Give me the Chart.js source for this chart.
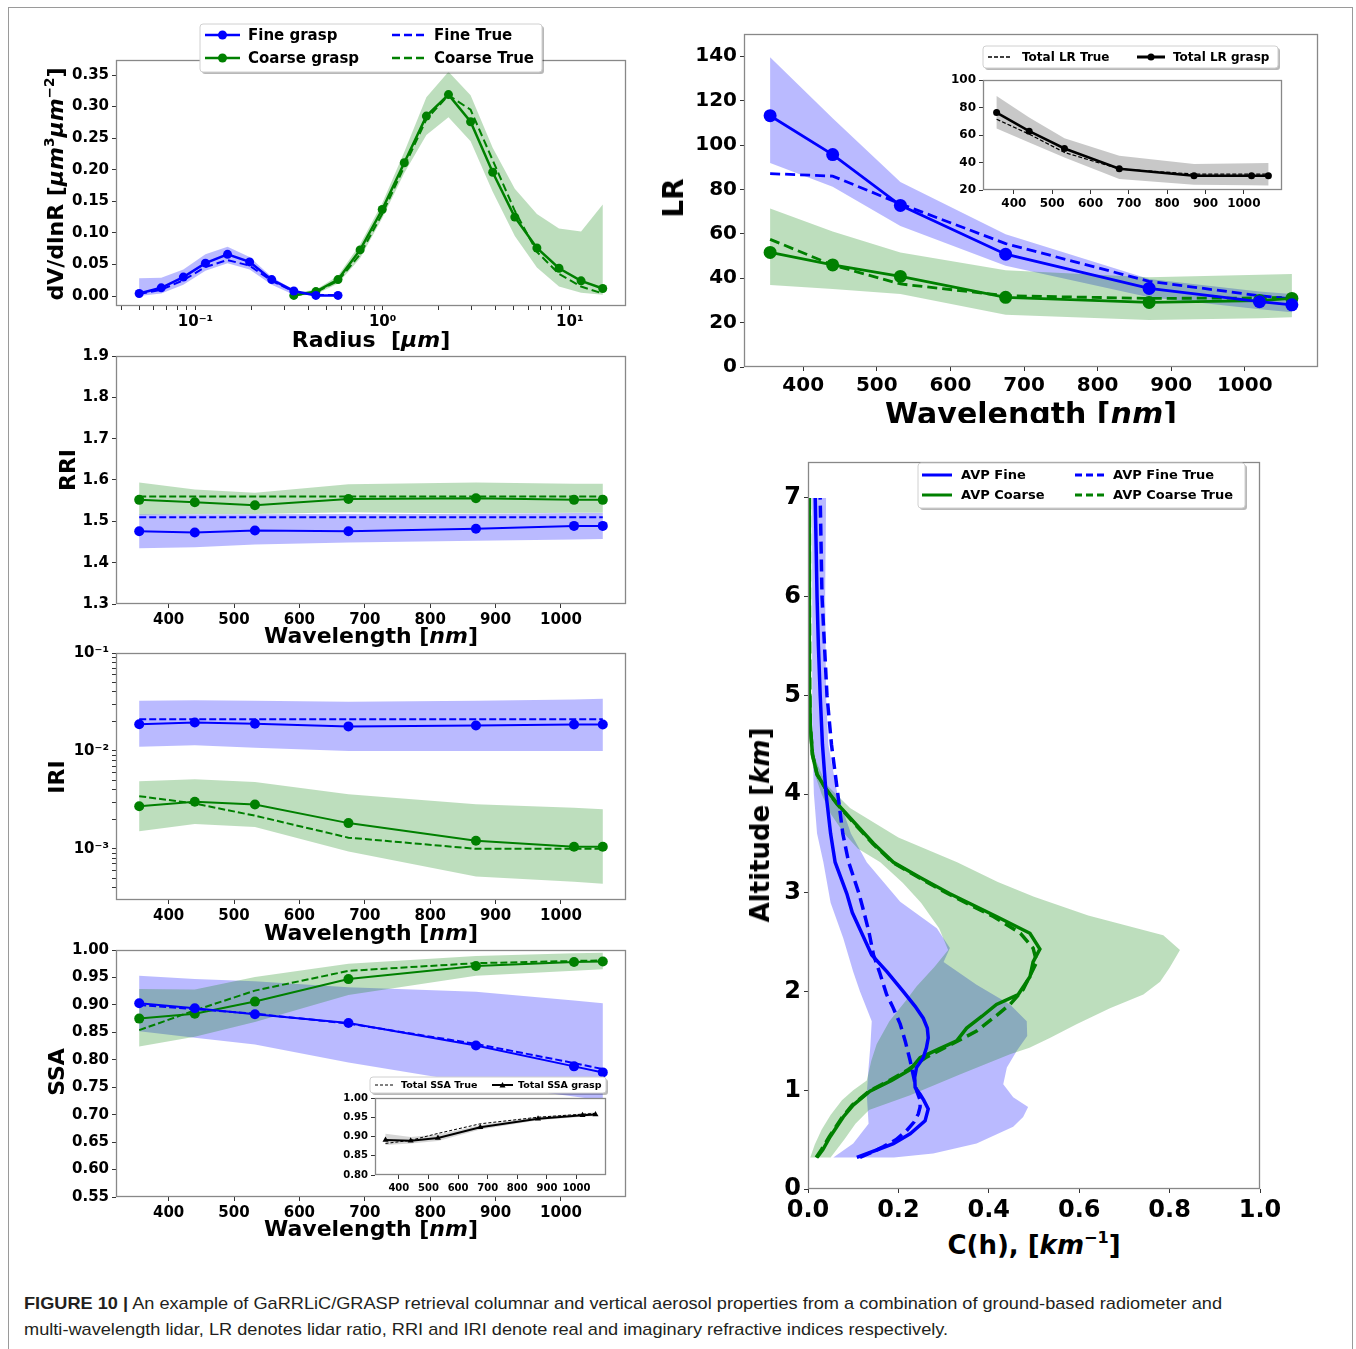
<!DOCTYPE html>
<html>
<head>
<meta charset="utf-8">
<script src="https://cdn.jsdelivr.net/npm/chart.js@4.4.1/dist/chart.umd.min.js"></script>
<style>
  body { margin: 0; width: 1356px; height: 1349px; background: #fff; position: relative; overflow: hidden; font-family: 'DejaVu Sans', sans-serif; }
  canvas { position: absolute; }
  .t { position: absolute; font-weight: bold; white-space: nowrap; color: #000; transform: translate(-50%, -50%); line-height: 1; }
  .r { transform: translate(-50%, -50%) rotate(-90deg); }
  .t sup { font-size: 0.62em; position: relative; top: -0.15em; vertical-align: top; }
  #frame { position: absolute; left: 8px; top: 7px; width: 1343px; height: 1400px; border: 1px solid #9a9a9a; }
  #cap { position: absolute; left: 24px; top: 1291px; font-family: 'Liberation Sans', Arial, sans-serif; font-size: 17px; line-height: 26px; color: #231f20; white-space: nowrap; transform-origin: 0 0; }
  #cap span { display: inline-block; }
</style>
</head>
<body>
<div id="frame"></div>

<script>
// ---- shared wavelength axis ----
const wavelengths = [355, 440, 532, 675, 870, 1020, 1064];
const wavelengthTicks = [400, 500, 600, 700, 800, 900, 1000];

// ---- size distribution ----
const radiusFine = [0.05, 0.0656, 0.0861, 0.113, 0.1483, 0.1946, 0.2554, 0.3352, 0.4399, 0.5774];
const fineGrasp = [0.004, 0.013, 0.030, 0.052, 0.066, 0.054, 0.026, 0.008, 0.001, 0.001];
const fineTrue = [0.003, 0.010, 0.025, 0.046, 0.057, 0.048, 0.024, 0.007, 0.002, 0.001];
const radiusFineBand = [0.05, 0.0656, 0.0861, 0.113, 0.1483, 0.1946, 0.2554, 0.3352];
const fineBandLow = [0.0, 0.004, 0.018, 0.040, 0.052, 0.042, 0.018, 0.002];
const fineBandHigh = [0.028, 0.029, 0.042, 0.066, 0.078, 0.062, 0.030, 0.010];
const radiusCoarse = [0.3352, 0.4399, 0.5774, 0.7578, 0.9946, 1.305, 1.713, 2.248, 2.951, 3.873, 5.083, 6.671, 8.756, 11.49, 15.0];
const coarseGrasp = [0.001, 0.007, 0.026, 0.073, 0.137, 0.211, 0.285, 0.319, 0.276, 0.196, 0.125, 0.076, 0.044, 0.024, 0.012];
const coarseTrue = [0.001, 0.006, 0.024, 0.066, 0.130, 0.205, 0.280, 0.318, 0.295, 0.215, 0.135, 0.070, 0.035, 0.015, 0.004];
const coarseBandLow = [0.0, 0.003, 0.020, 0.060, 0.123, 0.195, 0.255, 0.283, 0.245, 0.165, 0.095, 0.045, 0.015, 0.005, 0.002];
const coarseBandHigh = [0.005, 0.010, 0.032, 0.082, 0.147, 0.228, 0.315, 0.355, 0.318, 0.235, 0.170, 0.130, 0.107, 0.102, 0.145];
const sizeTicks = [0, 0.05, 0.10, 0.15, 0.20, 0.25, 0.30, 0.35];
const radiusMajor = [0.1, 1, 10];
const radiusMajorLabels = ['10⁻¹', '10⁰', '10¹'];
const radiusMinor = [0.04, 0.05, 0.06, 0.07, 0.08, 0.09, 0.2, 0.3, 0.4, 0.5, 0.6, 0.7, 0.8, 0.9, 2, 3, 4, 5, 6, 7, 8, 9];

// ---- RRI ----
const rriFineGrasp = [1.476, 1.473, 1.478, 1.476, 1.482, 1.489, 1.489];
const rriFineTrue = [1.51, 1.51, 1.51, 1.51, 1.51, 1.51, 1.51];
const rriFineLow = [1.435, 1.437, 1.444, 1.449, 1.453, 1.456, 1.457];
const rriFineHigh = [1.517, 1.517, 1.517, 1.518, 1.518, 1.520, 1.520];
const rriCoarseGrasp = [1.552, 1.546, 1.539, 1.554, 1.556, 1.552, 1.552];
const rriCoarseTrue = [1.56, 1.56, 1.56, 1.56, 1.56, 1.56, 1.56];
const rriCoarseLow = [1.516, 1.518, 1.518, 1.522, 1.519, 1.521, 1.521];
const rriCoarseHigh = [1.594, 1.577, 1.569, 1.590, 1.594, 1.591, 1.591];
const rriTicks = [1.3, 1.4, 1.5, 1.6, 1.7, 1.8, 1.9];

// ---- IRI ----
const iriFineGrasp = [0.0187, 0.0195, 0.0189, 0.0178, 0.0182, 0.0186, 0.0186];
const iriFineTrue = [0.021, 0.021, 0.021, 0.021, 0.021, 0.021, 0.021];
const iriFineLow = [0.0110, 0.0114, 0.0108, 0.0100, 0.0100, 0.0100, 0.0100];
const iriFineHigh = [0.0325, 0.0330, 0.0325, 0.0317, 0.0325, 0.0335, 0.0340];
const iriCoarseGrasp = [0.00272, 0.00303, 0.00283, 0.00183, 0.00121, 0.00105, 0.00105];
const iriCoarseTrue = [0.00345, 0.00290, 0.00218, 0.00130, 0.00100, 0.00100, 0.00100];
const iriCoarseLow = [0.00151, 0.00179, 0.00167, 0.00094, 0.00052, 0.00046, 0.00044];
const iriCoarseHigh = [0.00490, 0.00514, 0.00480, 0.00361, 0.00285, 0.00262, 0.00254];
const iriMajor = [0.001, 0.01, 0.1];
const iriMajorLabels = ['10⁻³', '10⁻²', '10⁻¹'];
const iriMinor = [0.0004, 0.0005, 0.0006, 0.0007, 0.0008, 0.0009, 0.002, 0.003, 0.004, 0.005, 0.006, 0.007, 0.008, 0.009, 0.02, 0.03, 0.04, 0.05, 0.06, 0.07, 0.08, 0.09];

// ---- SSA ----
const ssaFineGrasp = [0.903, 0.894, 0.883, 0.867, 0.826, 0.788, 0.777];
const ssaFineTrue = [0.900, 0.892, 0.884, 0.866, 0.829, 0.794, 0.783];
const ssaFineLow = [0.852, 0.840, 0.828, 0.795, 0.757, 0.733, 0.726];
const ssaFineHigh = [0.953, 0.947, 0.943, 0.932, 0.924, 0.908, 0.903];
const ssaCoarseGrasp = [0.875, 0.884, 0.906, 0.947, 0.971, 0.978, 0.979];
const ssaCoarseTrue = [0.854, 0.890, 0.926, 0.962, 0.976, 0.980, 0.981];
const ssaCoarseLow = [0.824, 0.842, 0.869, 0.918, 0.953, 0.962, 0.965];
const ssaCoarseHigh = [0.929, 0.928, 0.951, 0.975, 0.989, 0.994, 0.995];
const ssaTicks = [0.55, 0.60, 0.65, 0.70, 0.75, 0.80, 0.85, 0.90, 0.95, 1.00];
const ssaTotalGrasp = [0.891, 0.889, 0.896, 0.924, 0.946, 0.955, 0.957];
const ssaTotalTrue = [0.882, 0.890, 0.908, 0.933, 0.950, 0.958, 0.960];
const ssaTotalLow = [0.878, 0.882, 0.888, 0.918, 0.942, 0.951, 0.953];
const ssaTotalHigh = [0.907, 0.899, 0.905, 0.930, 0.952, 0.960, 0.963];
const ssaInsetTicks = [0.80, 0.85, 0.90, 0.95, 1.00];

// ---- lidar ratio ----
const lrFineGrasp = [113.2, 95.7, 72.8, 50.8, 35.4, 29.4, 28.0];
const lrFineTrue = [87.1, 86.0, 73.5, 55.6, 38.6, 32.1, 30.6];
const lrFineLow = [91.9, 81.2, 63.5, 45.6, 31.4, 26.0, 24.7];
const lrFineHigh = [139.5, 112.0, 83.3, 59.8, 39.6, 34.0, 32.9];
const lrCoarseGrasp = [51.6, 46.0, 40.8, 31.4, 29.1, 29.9, 30.9];
const lrCoarseTrue = [57.5, 45.9, 37.4, 32.1, 30.9, 31.1, 31.4];
const lrCoarseLow = [36.9, 35.1, 32.9, 23.5, 21.2, 22.0, 22.4];
const lrCoarseHigh = [71.4, 61.0, 51.6, 43.6, 40.4, 41.5, 41.9];
const lrTicks = [0, 20, 40, 60, 80, 100, 120, 140];
const lrTotalGrasp = [76.3, 62.8, 50.2, 35.5, 30.4, 30.4, 30.4];
const lrTotalTrue = [71.5, 60.6, 47.3, 35.3, 31.6, 31.6, 31.6];
const lrTotalLow = [64.7, 54.6, 43.7, 28.0, 23.9, 23.4, 23.2];
const lrTotalHigh = [88.4, 72.7, 57.7, 44.9, 38.9, 39.4, 39.6];
const lrInsetTicks = [20, 40, 60, 80, 100];

// ---- vertical profiles (altitude km, C(h) km^-1) ----
const fineAlt = [0.32, 0.40, 0.46, 0.56, 0.69, 0.81, 0.90, 0.96, 1.03, 1.13, 1.23, 1.33, 1.43, 1.53, 1.63, 1.73, 1.85, 2.0, 2.2, 2.37, 2.6, 2.8, 2.99, 3.31, 3.6, 4.0, 4.5, 5.0, 5.5, 6.0, 6.5, 7.0];
const avpFine = [0.108, 0.155, 0.189, 0.226, 0.259, 0.266, 0.256, 0.248, 0.237, 0.236, 0.240, 0.255, 0.262, 0.266, 0.264, 0.255, 0.237, 0.211, 0.175, 0.141, 0.118, 0.098, 0.086, 0.060, 0.050, 0.040, 0.032, 0.027, 0.023, 0.020, 0.018, 0.016];
const fineTrueAlt = [0.32, 0.38, 0.43, 0.50, 0.59, 0.68, 0.76, 0.83, 0.90, 1.0, 1.15, 1.30, 1.50, 1.67, 1.85, 1.97, 2.2, 2.37, 2.6, 2.8, 2.99, 3.31, 3.6, 4.0, 4.5, 5.0, 6.0, 7.0];
const avpFineTrue = [0.115, 0.145, 0.167, 0.195, 0.218, 0.235, 0.244, 0.248, 0.248, 0.240, 0.233, 0.226, 0.215, 0.204, 0.187, 0.174, 0.158, 0.145, 0.135, 0.124, 0.113, 0.090, 0.077, 0.066, 0.052, 0.042, 0.031, 0.027];
const coarseAlt = [0.32, 0.40, 0.53, 0.73, 0.85, 0.99, 1.10, 1.21, 1.33, 1.42, 1.50, 1.63, 1.75, 1.87, 1.97, 2.15, 2.30, 2.43, 2.59, 2.76, 2.99, 3.15, 3.31, 3.50, 3.70, 3.90, 4.05, 4.20, 4.40, 4.70, 5.00, 6.00, 7.00];
const avpCoarse = [0.020, 0.033, 0.049, 0.078, 0.100, 0.137, 0.185, 0.226, 0.248, 0.290, 0.329, 0.351, 0.385, 0.417, 0.465, 0.491, 0.498, 0.513, 0.491, 0.417, 0.314, 0.250, 0.189, 0.145, 0.105, 0.065, 0.040, 0.020, 0.010, 0.005, 0.004, 0.003, 0.003];
const coarseTrueAlt = [0.32, 0.40, 0.53, 0.73, 0.85, 0.99, 1.10, 1.21, 1.33, 1.45, 1.53, 1.60, 1.75, 1.87, 2.02, 2.15, 2.30, 2.44, 2.59, 2.76, 2.99, 3.15, 3.31, 3.50, 3.70, 3.90, 4.05, 4.20, 4.40, 4.70, 5.00, 6.00, 7.00];
const avpCoarseTrue = [0.018, 0.030, 0.047, 0.076, 0.098, 0.135, 0.180, 0.222, 0.260, 0.310, 0.344, 0.373, 0.415, 0.447, 0.476, 0.490, 0.506, 0.498, 0.470, 0.410, 0.310, 0.247, 0.187, 0.143, 0.103, 0.064, 0.040, 0.020, 0.010, 0.005, 0.004, 0.003, 0.003];
const coarseBandLeftAlt = [0.32, 0.45, 0.6, 0.75, 0.9, 1.0, 1.1, 1.3, 1.47, 1.7, 1.9, 2.05, 2.25, 2.42, 2.64, 2.9, 3.1, 3.31, 3.45, 3.6, 3.8, 4.0, 4.2, 4.4, 4.7];
const coarseBandLeft = [0.005, 0.015, 0.030, 0.050, 0.075, 0.100, 0.130, 0.140, 0.152, 0.180, 0.215, 0.240, 0.280, 0.310, 0.290, 0.250, 0.210, 0.160, 0.110, 0.080, 0.050, 0.030, 0.015, 0.005, 0.0];
const coarseBandRightAlt = [0.32, 0.5, 0.66, 0.8, 0.95, 1.16, 1.365, 1.43, 1.53, 1.67, 1.83, 1.97, 2.10, 2.24, 2.42, 2.57, 2.77, 2.96, 3.11, 3.31, 3.56, 3.86, 4.1, 4.4, 4.7];
const coarseBandRight = [0.050, 0.080, 0.105, 0.135, 0.226, 0.336, 0.447, 0.490, 0.535, 0.594, 0.668, 0.742, 0.779, 0.800, 0.823, 0.786, 0.620, 0.500, 0.420, 0.330, 0.200, 0.093, 0.040, 0.012, 0.0];
const fineBandLeftAlt = [0.32, 0.46, 0.66, 0.96, 1.23, 1.45, 1.7, 2.0, 2.2, 2.54, 2.9, 3.31, 3.6, 4.0, 4.5, 5.0, 6.0, 7.0];
const fineBandLeft = [0.056, 0.100, 0.134, 0.130, 0.134, 0.138, 0.141, 0.115, 0.100, 0.078, 0.050, 0.034, 0.020, 0.013, 0.010, 0.009, 0.009, 0.010];
const fineBandRightAlt = [0.32, 0.36, 0.46, 0.63, 0.73, 0.83, 0.93, 1.06, 1.23, 1.40, 1.55, 1.70, 1.87, 2.07, 2.30, 2.44, 2.64, 2.91, 3.31, 3.6, 4.0, 4.5, 5.0, 6.0, 7.0];
const fineBandRight = [0.190, 0.277, 0.373, 0.454, 0.476, 0.487, 0.454, 0.432, 0.440, 0.462, 0.485, 0.484, 0.447, 0.373, 0.300, 0.314, 0.285, 0.204, 0.130, 0.095, 0.065, 0.045, 0.040, 0.038, 0.040];
const profileXTicks = [0, 0.2, 0.4, 0.6, 0.8, 1.0];
const profileYTicks = [0, 1, 2, 3, 4, 5, 6, 7];

const blue = '#0000ff', green = '#008000';
const blueFill = 'rgba(0,0,255,0.27)', greenFill = 'rgba(0,128,0,0.26)';

Chart.defaults.font.family = "'DejaVu Sans', sans-serif";
Chart.defaults.font.weight = 'bold';
Chart.defaults.color = '#000';

const pts = (xs, ys) => xs.map((x, i) => ({x: x, y: ys[i]}));
const poly = (xs, lo, hi) => pts(xs, lo).concat(pts(xs, hi).reverse());
const ptsV = (alts, vals) => alts.map((a, i) => ({x: vals[i], y: a}));
const polyV = (aL, vL, aR, vR) => ptsV(aL, vL).concat(ptsV(aR, vR).reverse());

function solid(data, color, lw, r, style) {
  return {data: data, borderColor: color, backgroundColor: color, borderWidth: lw,
    pointRadius: r || 0, pointBorderWidth: 0, pointStyle: style || 'circle', pointBackgroundColor: color, fill: false};
}
function dashed(data, color, lw, dash) {
  return {data: data, borderColor: color, borderWidth: lw, borderDash: dash, pointRadius: 0, fill: false};
}
function band(data, color) {
  return {data: data, borderWidth: 0, borderColor: 'rgba(0,0,0,0)', backgroundColor: color, pointRadius: 0, fill: 'shape'};
}

function axis(pos, type, min, max, ticks, size, fmt) {
  return {
    type: type, position: pos, min: min, max: max,
    afterBuildTicks: s => { s.ticks = ticks.map(v => ({value: v})); },
    ticks: {font: {size: size}, padding: 3, autoSkip: false, maxRotation: 0, minRotation: 0, callback: fmt, color: '#000'},
    grid: {display: true, drawOnChartArea: false, drawTicks: true, tickLength: 4, tickColor: '#333', tickWidth: 1},
    border: {display: false}
  };
}
const fmtN = d => (v => Number(v).toFixed(d));
const fmtMajor = (major, labels) => (v => {
  const i = major.findIndex(m => Math.abs(m - v) / m < 1e-6);
  return i >= 0 ? labels[i] : '';
});

function framePlugin(white) {
  return {
    id: 'frame',
    beforeDraw(c) {
      if (!white) return;
      const a = c.chartArea;
      c.ctx.save(); c.ctx.fillStyle = '#fff'; c.ctx.fillRect(a.left, a.top, a.width, a.height); c.ctx.restore();
    },
    afterDraw(c) {
      const a = c.chartArea, ctx = c.ctx;
      ctx.save(); ctx.strokeStyle = '#888'; ctx.lineWidth = 1.3;
      ctx.strokeRect(Math.round(a.left) + 0.5, Math.round(a.top) + 0.5, Math.round(a.width) - 1, Math.round(a.height) - 1);
      ctx.restore();
    }
  };
}

function legendPlugin(spec, ox, oy) {
  return {
    id: 'boxLegend',
    afterDraw(c) {
      const ctx = c.ctx, b = spec.box;
      ctx.save();
      ctx.translate(-ox, -oy);
      ctx.fillStyle = 'rgba(0,0,0,0.28)';
      ctx.beginPath(); ctx.roundRect(b.x + 2, b.y + 2, b.w, b.h, 3); ctx.fill();
      ctx.fillStyle = '#fff';
      ctx.beginPath(); ctx.roundRect(b.x, b.y, b.w, b.h, 3); ctx.fill();
      ctx.strokeStyle = '#d0d0d0'; ctx.lineWidth = 1; ctx.stroke();
      ctx.font = 'bold ' + spec.size + "px 'DejaVu Sans'";
      ctx.textBaseline = 'middle';
      spec.items.forEach(it => {
        ctx.strokeStyle = it.color; ctx.fillStyle = it.color; ctx.lineWidth = it.lw;
        ctx.setLineDash(it.dash || []);
        ctx.beginPath(); ctx.moveTo(it.x1, it.y); ctx.lineTo(it.x2, it.y); ctx.stroke();
        ctx.setLineDash([]);
        const mx = (it.x1 + it.x2) / 2;
        if (it.marker === 'circle') { ctx.beginPath(); ctx.arc(mx, it.y, it.r, 0, Math.PI * 2); ctx.fill(); }
        if (it.marker === 'triangle') {
          ctx.beginPath(); ctx.moveTo(mx, it.y - it.r); ctx.lineTo(mx + it.r, it.y + it.r * 0.8);
          ctx.lineTo(mx - it.r, it.y + it.r * 0.8); ctx.closePath(); ctx.fill();
        }
        ctx.fillStyle = '#000';
        ctx.fillText(it.label, it.tx, it.y + 1);
      });
      ctx.restore();
    }
  };
}

function makeChart(area, pad, datasets, scales, opts) {
  opts = opts || {};
  const ox = area.x - pad.l, oy = area.y - pad.t;
  const W = area.w + pad.l + pad.r, H = area.h + pad.t + pad.b;
  const cv = document.createElement('canvas');
  cv.width = W; cv.height = H;
  cv.style.left = ox + 'px'; cv.style.top = oy + 'px';
  document.body.appendChild(cv);
  scales.x.afterFit = s => { s.height = pad.b; };
  scales.y.afterFit = s => { s.width = pad.l; };
  const plugins = [framePlugin(opts.white)];
  if (opts.legend) plugins.push(legendPlugin(opts.legend, ox, oy));
  return new Chart(cv, {
    type: 'line',
    data: {datasets: datasets},
    options: {
      responsive: false, animation: false, events: [],
      elements: {line: {tension: 0}},
      layout: {padding: {left: 0, top: pad.t, right: pad.r, bottom: 0}},
      scales: scales,
      plugins: {legend: {display: false}, tooltip: {enabled: false}}
    },
    plugins: plugins
  });
}

const wlAxis = size => axis('bottom', 'linear', 319.5, 1099.5, wavelengthTicks, size, v => String(v));

// Size distribution
makeChart({x: 116, y: 60, w: 510, h: 246}, {l: 64, t: 48, r: 12, b: 28}, [
  solid(pts(radiusFine, fineGrasp), blue, 2.5, 4.5),
  solid(pts(radiusCoarse, coarseGrasp), green, 2.5, 4.5),
  dashed(pts(radiusFine, fineTrue), blue, 2, [8, 4]),
  dashed(pts(radiusCoarse, coarseTrue), green, 2, [8, 4]),
  band(poly(radiusCoarse, coarseBandLow, coarseBandHigh), greenFill),
  band(poly(radiusFineBand, fineBandLow, fineBandHigh), blueFill)
], {
  x: axis('bottom', 'logarithmic', 0.0376, 19.97, radiusMinor.concat(radiusMajor), 15, fmtMajor(radiusMajor, radiusMajorLabels)),
  y: axis('left', 'linear', -0.0158, 0.3738, sizeTicks, 15, fmtN(2))
}, {legend: {box: {x: 200, y: 24, w: 342, h: 48}, size: 15, items: [
  {x1: 205, x2: 240, y: 35, tx: 248, label: 'Fine grasp', color: blue, lw: 2.5, marker: 'circle', r: 4.5},
  {x1: 392, x2: 425, y: 35, tx: 434, label: 'Fine True', color: blue, lw: 2.5, dash: [8, 4]},
  {x1: 205, x2: 240, y: 58, tx: 248, label: 'Coarse grasp', color: green, lw: 2.5, marker: 'circle', r: 4.5},
  {x1: 392, x2: 425, y: 58, tx: 434, label: 'Coarse True', color: green, lw: 2.5, dash: [8, 4]}
]}});

// RRI
makeChart({x: 116, y: 356, w: 510, h: 248}, {l: 64, t: 14, r: 12, b: 26}, [
  solid(pts(wavelengths, rriFineGrasp), blue, 2, 5),
  solid(pts(wavelengths, rriCoarseGrasp), green, 2, 5),
  dashed(pts(wavelengths, rriFineTrue), blue, 2, [7, 3]),
  dashed(pts(wavelengths, rriCoarseTrue), green, 2, [7, 3]),
  band(poly(wavelengths, rriCoarseLow, rriCoarseHigh), greenFill),
  band(poly(wavelengths, rriFineLow, rriFineHigh), blueFill)
], {x: wlAxis(15), y: axis('left', 'linear', 1.3, 1.9, rriTicks, 15, fmtN(1))});

// IRI
makeChart({x: 116, y: 653, w: 510, h: 247}, {l: 64, t: 14, r: 12, b: 26}, [
  solid(pts(wavelengths, iriFineGrasp), blue, 2, 5),
  solid(pts(wavelengths, iriCoarseGrasp), green, 2, 5),
  dashed(pts(wavelengths, iriFineTrue), blue, 2, [7, 3]),
  dashed(pts(wavelengths, iriCoarseTrue), green, 2, [7, 3]),
  band(poly(wavelengths, iriCoarseLow, iriCoarseHigh), greenFill),
  band(poly(wavelengths, iriFineLow, iriFineHigh), blueFill)
], {x: wlAxis(15), y: axis('left', 'logarithmic', 0.000339, 0.1, iriMinor.concat(iriMajor), 15, fmtMajor(iriMajor, iriMajorLabels))});

// SSA
makeChart({x: 116, y: 950, w: 510, h: 247}, {l: 64, t: 14, r: 12, b: 26}, [
  solid(pts(wavelengths, ssaFineGrasp), blue, 2, 5),
  solid(pts(wavelengths, ssaCoarseGrasp), green, 2, 5),
  dashed(pts(wavelengths, ssaFineTrue), blue, 2, [7, 3]),
  dashed(pts(wavelengths, ssaCoarseTrue), green, 2, [7, 3]),
  band(poly(wavelengths, ssaCoarseLow, ssaCoarseHigh), greenFill),
  band(poly(wavelengths, ssaFineLow, ssaFineHigh), blueFill)
], {x: wlAxis(15), y: axis('left', 'linear', 0.55, 1.0, ssaTicks, 15, fmtN(2))});

// Lidar ratio
makeChart({x: 744, y: 31, w: 574, h: 336}, {l: 60, t: 12, r: 12, b: 32}, [
  solid(pts(wavelengths, lrFineGrasp), blue, 2.8, 6.5),
  solid(pts(wavelengths, lrCoarseGrasp), green, 2.8, 6.5),
  dashed(pts(wavelengths, lrFineTrue), blue, 2.8, [10, 5]),
  dashed(pts(wavelengths, lrCoarseTrue), green, 2.8, [10, 5]),
  band(poly(wavelengths, lrCoarseLow, lrCoarseHigh), greenFill),
  band(poly(wavelengths, lrFineLow, lrFineHigh), blueFill)
], {x: wlAxis(20), y: axis('left', 'linear', 0, 150, lrTicks, 20, v => String(v))});

// Vertical profiles
makeChart({x: 808, y: 457, w: 452, h: 732}, {l: 44, t: 12, r: 32, b: 36}, [
  solid(ptsV(fineAlt, avpFine), blue, 3.5),
  dashed(ptsV(fineTrueAlt, avpFineTrue), blue, 3.5, [12, 6]),
  solid(ptsV(coarseAlt, avpCoarse), green, 3.5),
  dashed(ptsV(coarseTrueAlt, avpCoarseTrue), green, 3.5, [12, 6]),
  band(polyV(coarseBandLeftAlt, coarseBandLeft, coarseBandRightAlt, coarseBandRight), greenFill),
  band(polyV(fineBandLeftAlt, fineBandLeft, fineBandRightAlt, fineBandRight), blueFill)
], {
  x: axis('bottom', 'linear', 0, 1, profileXTicks, 24, fmtN(1)),
  y: axis('left', 'linear', 0, 7.36, profileYTicks, 24, v => String(v))
}, {legend: {box: {x: 918, y: 463, w: 327, h: 45}, size: 13, items: [
  {x1: 922, x2: 952, y: 475, tx: 961, label: 'AVP Fine', color: blue, lw: 3},
  {x1: 1075, x2: 1105, y: 475, tx: 1113, label: 'AVP Fine True', color: blue, lw: 3, dash: [7, 4]},
  {x1: 922, x2: 952, y: 495, tx: 961, label: 'AVP Coarse', color: green, lw: 3},
  {x1: 1075, x2: 1105, y: 495, tx: 1113, label: 'AVP Coarse True', color: green, lw: 3, dash: [7, 4]}
]}});

// Inset: total LR
makeChart({x: 983, y: 80, w: 299, h: 110}, {l: 34, t: 36, r: 6, b: 20}, [
  solid(pts(wavelengths, lrTotalGrasp), '#000', 2.5, 3.5),
  dashed(pts(wavelengths, lrTotalTrue), '#000', 1.2, [4, 2]),
  band(poly(wavelengths, lrTotalLow, lrTotalHigh), 'rgba(128,128,128,0.43)')
], {x: wlAxis(12), y: axis('left', 'linear', 20, 100, lrInsetTicks, 12, v => String(v))},
{white: true, legend: {box: {x: 983, y: 46, w: 295, h: 22}, size: 12, items: [
  {x1: 988, x2: 1012, y: 57, tx: 1022, label: 'Total LR True', color: '#000', lw: 1.3, dash: [4, 2]},
  {x1: 1137, x2: 1165, y: 57, tx: 1173, label: 'Total LR grasp', color: '#000', lw: 3, marker: 'circle', r: 3.5}
]}});

// Inset: total SSA
makeChart({x: 375, y: 1098, w: 231, h: 77}, {l: 36, t: 23, r: 4, b: 16}, [
  solid(pts(wavelengths, ssaTotalGrasp), '#000', 2, 3.5, 'triangle'),
  dashed(pts(wavelengths, ssaTotalTrue), '#000', 1, [3, 2]),
  band(poly(wavelengths, ssaTotalLow, ssaTotalHigh), 'rgba(128,128,128,0.32)')
], {x: wlAxis(10), y: axis('left', 'linear', 0.8, 1.0, ssaInsetTicks, 10, fmtN(2))},
{white: true, legend: {box: {x: 370, y: 1077, w: 236, h: 16}, size: 9.5, items: [
  {x1: 375, x2: 393, y: 1085, tx: 401, label: 'Total SSA True', color: '#000', lw: 1, dash: [3, 2]},
  {x1: 492, x2: 513, y: 1085, tx: 518, label: 'Total SSA grasp', color: '#000', lw: 2, marker: 'triangle', r: 3}
]}});
</script>

<!-- axis titles -->
<div class="t r" style="left:56px;top:184px;font-size:22px">dV/dlnR [<i>μm</i><sup>3</sup><i>μm</i><sup>−2</sup>]</div>
<div class="t" style="left:371px;top:340px;font-size:22px">Radius&nbsp;&nbsp;[<i>μm</i>]</div>
<div class="t r" style="left:68px;top:470px;font-size:22px">RRI</div>
<div class="t" style="left:371px;top:636px;font-size:22px">Wavelength [<i>nm</i>]</div>
<div class="t r" style="left:57px;top:777px;font-size:22px">IRI</div>
<div class="t" style="left:371px;top:933px;font-size:22px">Wavelength [<i>nm</i>]</div>
<div class="t r" style="left:57px;top:1072px;font-size:22px">SSA</div>
<div class="t" style="left:371px;top:1229px;font-size:22px">Wavelength [<i>nm</i>]</div>
<div class="t r" style="left:674px;top:198px;font-size:28px">LR</div>
<div style="position:absolute;left:800px;top:392px;width:460px;height:31px;overflow:hidden">
  <div class="t" style="left:231px;top:7px;font-size:30px;transform:translate(-50%,0)">Wavelength [<i>nm</i>]</div>
</div>
<div class="t r" style="left:760px;top:825px;font-size:26px">Altitude [<i>km</i>]</div>
<div class="t" style="left:1034px;top:1245px;font-size:26px">C(h), [<i>km</i><sup>−1</sup>]</div>

<div id="cap"><span id="cap1"><b>FIGURE 10 |</b> An example of GaRRLiC/GRASP retrieval columnar and vertical aerosol properties from a combination of ground-based radiometer and</span><br><span>multi-wavelength lidar, LR denotes lidar ratio, RRI and IRI denote real and imaginary refractive indices respectively.</span></div>
<script>
  const capLine = document.getElementById('cap1');
  const capScale = 1198 / capLine.getBoundingClientRect().width;
  document.getElementById('cap').style.transform = 'scaleX(' + capScale + ')';
</script>
</body>
</html>
